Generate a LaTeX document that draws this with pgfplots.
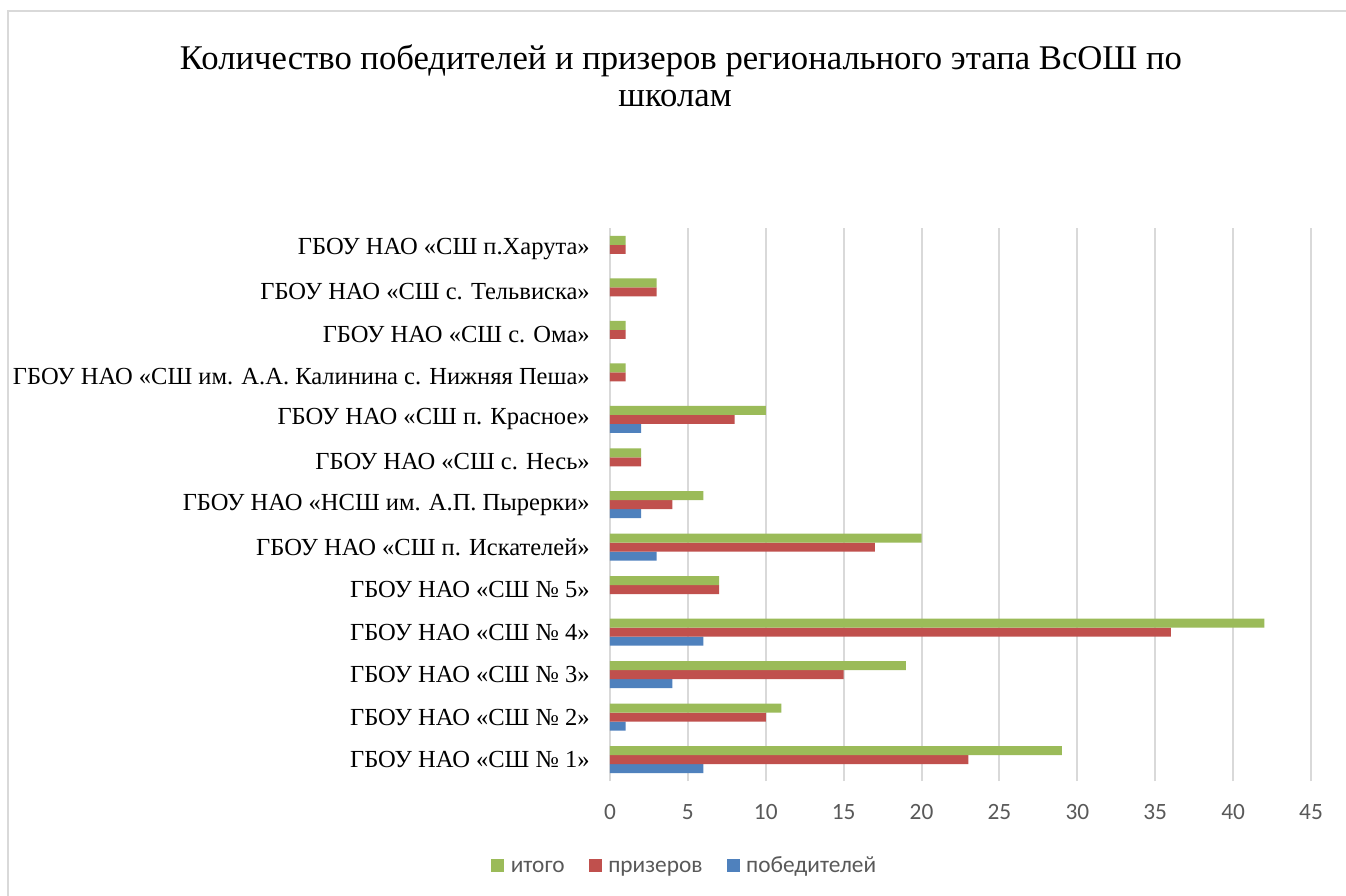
\documentclass[border=0pt]{standalone}
\usepackage{fontspec}
\setmainfont{Liberation Serif}
\newfontfamily\carlito{Carlito}
\usepackage{pgfplots}
\pgfplotsset{compat=1.18}
\definecolor{cblue}{HTML}{4F81BD}
\definecolor{cred}{HTML}{C0504D}
\definecolor{cgreen}{HTML}{9BBB59}
\definecolor{cgrid}{HTML}{D9D9D9}
\definecolor{ctext}{HTML}{595959}
\begin{document}
\begin{tikzpicture}[x=0.75pt,y=-0.75pt]
\path[use as bounding box] (0,0) rectangle (1346,896);
\fill[white] (0,0) rectangle (1346,896);
\draw[cgrid, line width=1.5pt] (8,11) rectangle (1360,910);
\node[anchor=base, font=\fontsize{26pt}{30pt}\selectfont, inner sep=0pt] at (681,69) {Количество победителей и призеров регионального этапа ВсОШ по};
\node[anchor=base, font=\fontsize{26pt}{30pt}\selectfont, inner sep=0pt] at (675,106) {школам};
\begin{axis}[
  at={(457.5pt,-585.75pt)}, anchor=south west,
  scale only axis, width=525.75pt, height=414.75pt,
  xbar, bar width=6.75pt,
  xmin=0, xmax=45, ymin=-0.5, ymax=12.5,
  xtick={0,5,...,45},
  xticklabels={0,5,10,15,20,25,30,35,40,45},
  ytick={0,...,12},
  yticklabels={
    ГБОУ НАО «СШ № 1»,
    ГБОУ НАО «СШ № 2»,
    ГБОУ НАО «СШ № 3»,
    ГБОУ НАО «СШ № 4»,
    ГБОУ НАО «СШ № 5»,
    ГБОУ НАО «СШ п. Искателей»,
    ГБОУ НАО «НСШ им. А.П. Пырерки»,
    ГБОУ НАО «СШ с. Несь»,
    ГБОУ НАО «СШ п. Красное»,
    ГБОУ НАО «СШ им. А.А. Калинина с. Нижняя Пеша»,
    ГБОУ НАО «СШ с. Ома»,
    ГБОУ НАО «СШ с. Тельвиска»,
    ГБОУ НАО «СШ п.Харута»},
  major tick length=0pt,
  axis line style={draw=none},
  xmajorgrids, major grid style={cgrid, line width=1.5pt},
  yticklabel style={anchor=east, inner sep=0pt, xshift=-15pt, font=\fontsize{18.4pt}{21pt}\selectfont},
  xticklabel style={anchor=center, inner sep=0pt, yshift=-23.25pt, font=\carlito\fontsize{17.5pt}{20pt}\selectfont, text=ctext},
  legend columns=3,
  reverse legend,
  legend style={at={(0.107,-0.155)}, anchor=center, draw=none, fill=none,
    font=\carlito\fontsize{17.5pt}{20pt}\selectfont, text=ctext,
    nodes={text height=11pt, text depth=3pt},
    /tikz/every even column/.append style={column sep=16pt},
    /tikz/every odd column/.append style={column sep=3pt}},
  legend image code/.code={\fill[#1] (0pt,-4pt) rectangle (9.75pt,5.75pt);},
  clip=false,
]
\addplot[fill=cblue, draw=none, bar shift=-6.75pt] coordinates {
  (6,0) (1,1) (4,2) (6,3) (3,5) (2,6) (2,8)};
\addlegendentry{победителей}
\addplot[fill=cred, draw=none, bar shift=0pt] coordinates {
  (23,0) (10,1) (15,2) (36,3) (7,4) (17,5) (4,6) (2,7) (8,8) (1,9) (1,10) (3,11) (1,12)};
\addlegendentry{призеров}
\addplot[fill=cgreen, draw=none, bar shift=6.75pt] coordinates {
  (29,0) (11,1) (19,2) (42,3) (7,4) (20,5) (6,6) (2,7) (10,8) (1,9) (1,10) (3,11) (1,12)};
\addlegendentry{итого}
\end{axis}
\end{tikzpicture}
\end{document}
